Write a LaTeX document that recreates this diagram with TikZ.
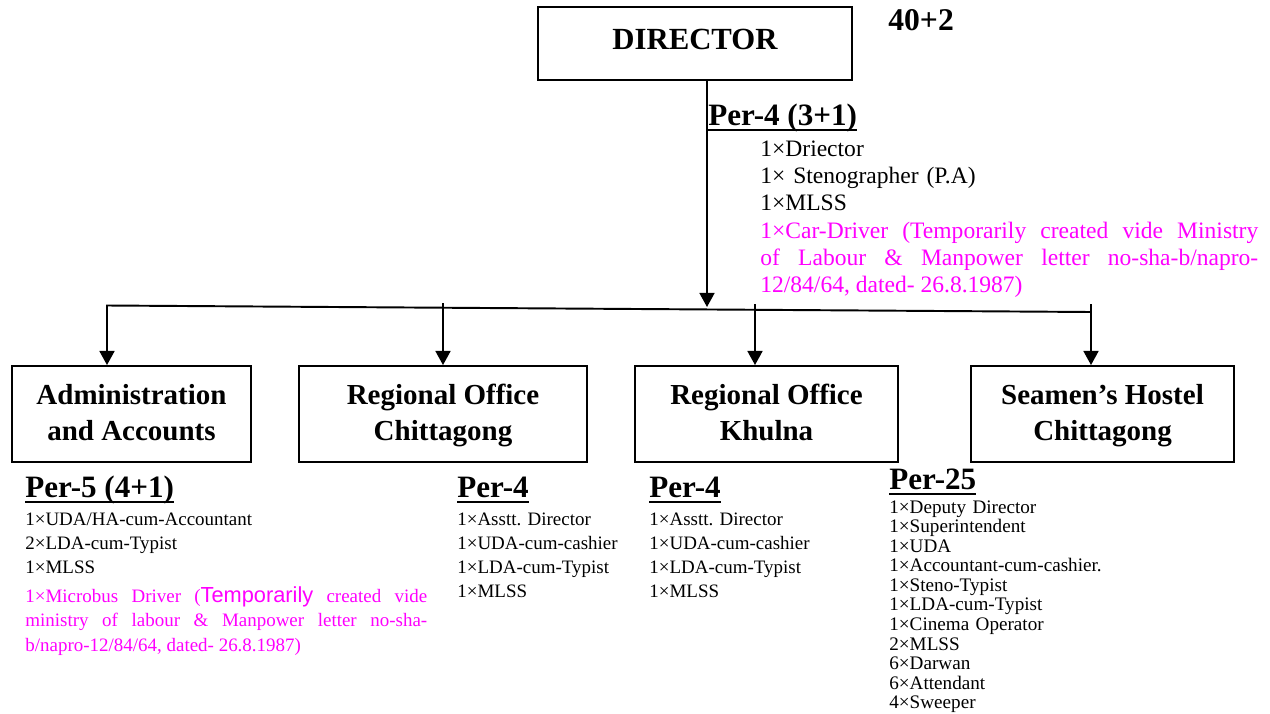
\documentclass[tikz,border=0pt]{standalone}
\usepackage{fontspec}
\setmainfont{Liberation Serif}
\newfontfamily\notesans{Liberation Sans}
\usetikzlibrary{arrows.meta}
\frenchspacing

\definecolor{notepink}{RGB}{255,0,255}
\newcommand{\perhead}[1]{\setbox0=\hbox{#1}\rlap{\rule[-3.6pt]{\wd0}{1.6pt}}\box0}
\newcommand{\twoline}[2]{\rule{0pt}{18pt}#1\\#2\rule[-8pt]{0pt}{8pt}}

\begin{document}
\begin{tikzpicture}[x=0.02cm, y=-0.02cm,
    unitbox/.style={draw, line width=1.1pt, minimum height=1.92cm, inner sep=0pt, align=center, font=\fontsize{16.5}{20.5}\selectfont\bfseries},
    flow/.style={line width=1.1pt, -{Triangle[width=8.5pt,length=8pt]}},
    perhd/.style={anchor=base west, inner sep=0pt, font=\fontsize{17.7}{20}\selectfont\bfseries},
    stafflist/.style={anchor=base west, inner sep=0pt, text width=4.6cm, align=left, font=\fontsize{10.8}{13.7}\selectfont},
    note/.style={anchor=base west, inner sep=0pt, align=justify, text=notepink}]
    \useasboundingbox (0,0) rectangle (1270,713);

    % director and its own staff
    \node[draw, line width=1.1pt, minimum width=6.28cm, minimum height=1.46cm, text depth=4.5pt, font=\fontsize{17.5}{20}\selectfont\bfseries] (dir) at (695,43.5) {DIRECTOR};
    \node[anchor=base west, inner sep=0pt, font=\fontsize{18}{20}\selectfont\bfseries] (total) at (888,31) {40+2};
    \node[perhd] (dirper) at (708,125) {\perhead{Per-4 (3+1)}};
    \node[stafflist, text width=8cm, font=\fontsize{13.4}{15.5}\selectfont] (dirlist) at (760,156) {1×Driector\\1× Stenographer (P.A)\\1×MLSS};
    \node[note, text width=9.96cm, font=\fontsize{13.4}{15.5}\selectfont] (dirnote) at (760,238) {\noindent 1×Car-Driver (Temporarily created vide Ministry\linebreak of Labour \& Manpower letter no-sha-b/napro-\linebreak 12/84/64, dated- 26.8.1987)};

    % units
    \node[unitbox, minimum width=4.78cm] (adm) at (131.5,414) {\twoline{Administration}{and Accounts}};
    \node[unitbox, minimum width=5.76cm] (rctg) at (443,414) {\twoline{Regional Office}{Chittagong}};
    \node[unitbox, minimum width=5.26cm] (rkhl) at (766.5,414) {\twoline{Regional Office}{Khulna}};
    \node[unitbox, minimum width=5.26cm] (hostel) at (1102.5,414) {\twoline{Seamen's Hostel}{Chittagong}};

    % connectors
    \coordinate (dirdrop) at (707,307);
    \coordinate (busL) at (107,305.5);
    \coordinate (busR) at (1091,312);
    \coordinate (dropB) at (443,303);
    \coordinate (dropC) at (755,304);
    \coordinate (dropD) at (1091,304);
    \draw[flow] (dir.south -| dirdrop) -- (dirdrop);
    \draw[flow] (busR) -- (busL) -- (busL |- adm.north);
    \draw[flow] (dropB) -- (dropB |- rctg.north);
    \draw[flow] (dropC) -- (dropC |- rkhl.north);
    \draw[flow] (dropD) -- (dropD |- hostel.north);

    % staff of each unit
    \node[perhd] (admper) at (25,497) {\perhead{Per-5 (4+1)}};
    \node[stafflist] (admlist) at (25,525) {1×UDA/HA-cum-Accountant\\2×LDA-cum-Typist\\1×MLSS};
    \node[note, text width=8.04cm, font=\fontsize{10.8}{14.2}\selectfont] (admnote) at (25,602) {\noindent 1×Microbus Driver ({\notesans\fontsize{12.4}{14.2}\selectfont Temporarily} created vide\linebreak ministry of labour \& Manpower letter no-sha-\linebreak b/napro-12/84/64, dated- 26.8.1987)};

    \node[perhd] (ctgper) at (457,497) {\perhead{Per-4}};
    \node[stafflist] (ctglist) at (457,525) {1×Asstt. Director\\1×UDA-cum-cashier\\1×LDA-cum-Typist\\1×MLSS};

    \node[perhd] (khlper) at (649,497) {\perhead{Per-4}};
    \node[stafflist] (khllist) at (649,525) {1×Asstt. Director\\1×UDA-cum-cashier\\1×LDA-cum-Typist\\1×MLSS};

    \node[perhd] (hstper) at (889,489) {\perhead{Per-25}};
    \node[stafflist, font=\fontsize{10.9}{11.15}\selectfont] (hstlist) at (889,513) {1×Deputy Director\\1×Superintendent\\1×UDA\\1×Accountant-cum-cashier.\\1×Steno-Typist\\1×LDA-cum-Typist\\1×Cinema Operator\\2×MLSS\\6×Darwan\\6×Attendant\\4×Sweeper};
\end{tikzpicture}
\end{document}
